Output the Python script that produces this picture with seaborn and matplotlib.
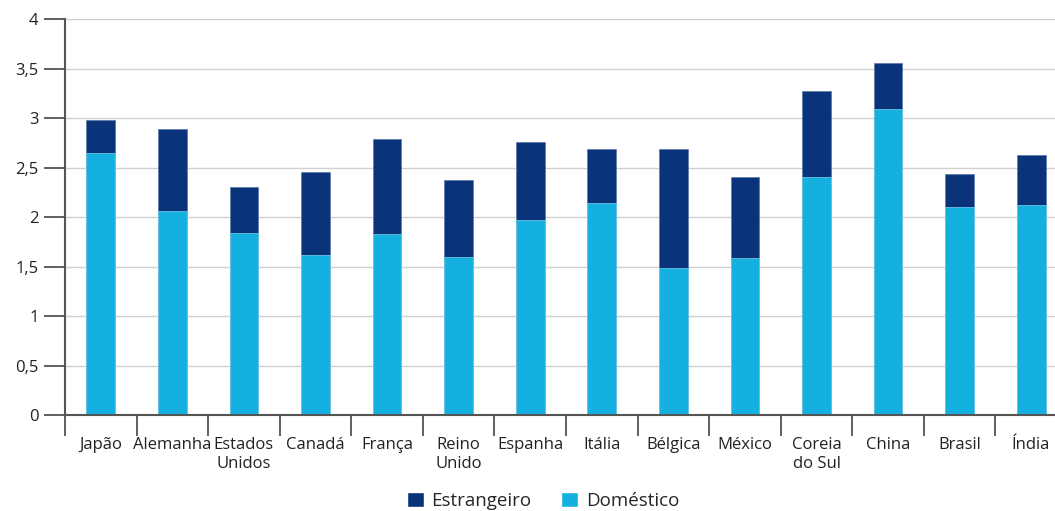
import matplotlib.pyplot as plt
import seaborn as sns
import pandas as pd
import numpy as np
from matplotlib.patches import Patch

# data
paises = ["Japão", "Alemanha", "Estados\nUnidos", "Canadá", "França", "Reino\nUnido",
          "Espanha", "Itália", "Bélgica", "México", "Coreia\ndo Sul", "China",
          "Brasil", "Índia"]
domestico = [2.65, 2.06, 1.84, 1.62, 1.83, 1.60, 1.97, 2.14, 1.48, 1.59, 2.40, 3.09, 2.10, 2.12]
estrangeiro = [0.33, 0.83, 0.46, 0.83, 0.96, 0.77, 0.79, 0.55, 1.21, 0.81, 0.87, 0.47, 0.33, 0.51]

COR_DOM = "#14b1e0"
COR_EST = "#0a337a"

sns.set_style("white")
plt.rcParams['font.family'] = ['Open Sans', 'DejaVu Sans']

df = pd.DataFrame({"pais": paises, "domestico": domestico, "estrangeiro": estrangeiro})
df["total"] = df["domestico"] + df["estrangeiro"]

fig = plt.figure(figsize=(10.55, 5.11), dpi=100)
ax = fig.add_axes([65 / 1055, 1 - 415 / 511, 1002 / 1055, 396 / 511])

sns.barplot(data=df, x="pais", y="total", color=COR_EST, width=0.4,
            saturation=1, edgecolor="#5a78a8", linewidth=0.5, ax=ax)
sns.barplot(data=df, x="pais", y="domestico", color=COR_DOM, width=0.4,
            saturation=1, edgecolor="#7fd2ee", linewidth=0.5, ax=ax)

ax.set_xlim(-0.5, len(paises) - 0.5)
ax.set_ylim(0, 4)
ax.set_yticks(np.arange(0, 4.01, 0.5))
ax.set_yticklabels(["0", "0,5", "1", "1,5", "2", "2,5", "3", "3,5", "4"], fontsize=12)
ax.yaxis.grid(True, color="#d0d0d0", linewidth=1)
ax.set_axisbelow(True)

# ticks at category boundaries, labels at centers
ax.set_xticks(np.arange(-0.5, len(paises), 1.0))
ax.set_xticklabels([])
ax.set_xticks(np.arange(len(paises)), minor=True)
ax.set_xticklabels(paises, minor=True, fontsize=12, color="#222222", linespacing=1.2)
ax.tick_params(axis="x", which="major", bottom=True, direction="out", length=15,
               width=1.2, color="#444444")
ax.tick_params(axis="x", which="minor", bottom=True, length=0, pad=16)
ax.tick_params(axis="y", left=True, direction="out", length=15, width=1.2, color="#444444",
               labelcolor="#222222", pad=4)

ax.set_xlabel("")
ax.set_ylabel("")
for side in ["top", "right"]:
    ax.spines[side].set_visible(False)
for side in ["left", "bottom"]:
    ax.spines[side].set_color("#555555")
    ax.spines[side].set_linewidth(1.5)

handles = [Patch(facecolor=COR_EST, label="Estrangeiro"),
           Patch(facecolor=COR_DOM, label="Doméstico")]
fig.legend(handles=handles, loc="center", bbox_to_anchor=(543 / 1055, 1 - 501 / 511), ncol=2,
           frameon=False, fontsize=13.5, handlelength=0.9, handleheight=0.9,
           handletextpad=0.4, columnspacing=1.6)

fig.savefig("out.png", dpi=100)
